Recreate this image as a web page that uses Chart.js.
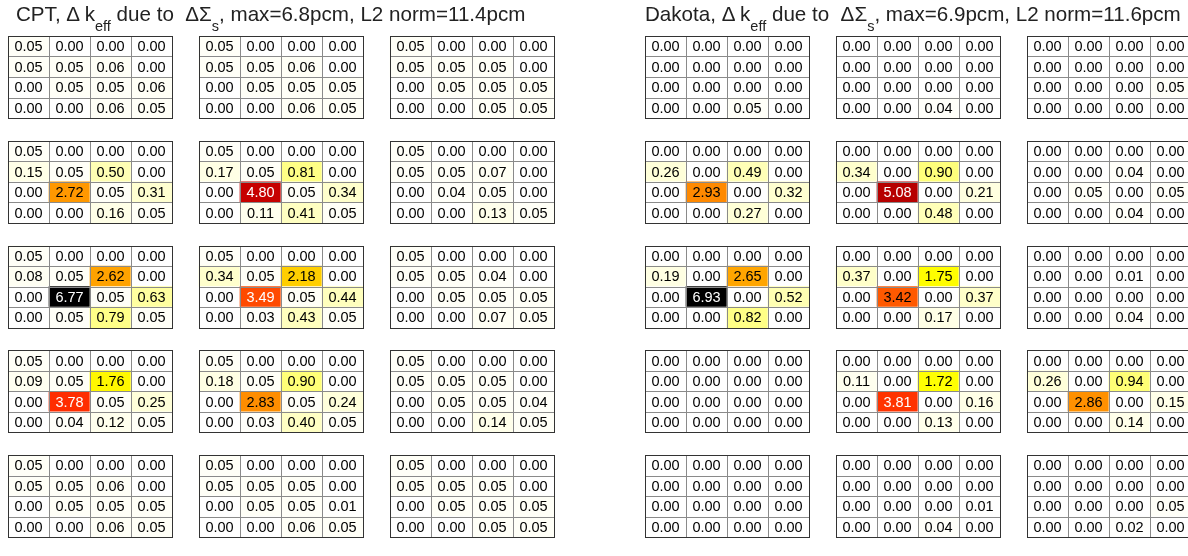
<!DOCTYPE html>
<html>
<head>
<meta charset="utf-8">
<script src="https://cdn.jsdelivr.net/npm/chart.js@4.4.1/dist/chart.umd.min.js"></script>
<style>
  html, body { margin: 0; padding: 0; background: #fff; width: 1188px; height: 556px; overflow: hidden; }
  .panel { position: absolute; top: 0; width: 594px; height: 556px; }
  .panel canvas { position: absolute; left: 0; top: 0; }
  .title { position: absolute; top: 3px; font-family: "Liberation Sans", Arial, sans-serif; font-size: 20.6px;
           line-height: 21px; color: #222; white-space: pre; }
  .title sub { font-size: 14.5px; vertical-align: -10px; line-height: 0; }
</style>
</head>
<body>
<div class="panel" style="left:0px"><canvas id="c0" width="594" height="556"></canvas><div class="title" id="t0" style="left:16px"></div></div>
<div class="panel" style="left:594px"><canvas id="c1" width="594" height="556"></canvas><div class="title" id="t1" style="left:51px"></div></div>
<script>
// Δk_eff (pcm) per pin, three assemblies side by side, five axial bands top to bottom.
const cptBand1 = [
  [0.05, 0.00, 0.00, 0.00,  0.05, 0.00, 0.00, 0.00,  0.05, 0.00, 0.00, 0.00],
  [0.05, 0.05, 0.06, 0.00,  0.05, 0.05, 0.06, 0.00,  0.05, 0.05, 0.05, 0.00],
  [0.00, 0.05, 0.05, 0.06,  0.00, 0.05, 0.05, 0.05,  0.00, 0.05, 0.05, 0.05],
  [0.00, 0.00, 0.06, 0.05,  0.00, 0.00, 0.06, 0.05,  0.00, 0.00, 0.05, 0.05]
];
const cptBand2 = [
  [0.05, 0.00, 0.00, 0.00,  0.05, 0.00, 0.00, 0.00,  0.05, 0.00, 0.00, 0.00],
  [0.15, 0.05, 0.50, 0.00,  0.17, 0.05, 0.81, 0.00,  0.05, 0.05, 0.07, 0.00],
  [0.00, 2.72, 0.05, 0.31,  0.00, 4.80, 0.05, 0.34,  0.00, 0.04, 0.05, 0.00],
  [0.00, 0.00, 0.16, 0.05,  0.00, 0.11, 0.41, 0.05,  0.00, 0.00, 0.13, 0.05]
];
const cptBand3 = [
  [0.05, 0.00, 0.00, 0.00,  0.05, 0.00, 0.00, 0.00,  0.05, 0.00, 0.00, 0.00],
  [0.08, 0.05, 2.62, 0.00,  0.34, 0.05, 2.18, 0.00,  0.05, 0.05, 0.04, 0.00],
  [0.00, 6.77, 0.05, 0.63,  0.00, 3.49, 0.05, 0.44,  0.00, 0.05, 0.05, 0.05],
  [0.00, 0.05, 0.79, 0.05,  0.00, 0.03, 0.43, 0.05,  0.00, 0.00, 0.07, 0.05]
];
const cptBand4 = [
  [0.05, 0.00, 0.00, 0.00,  0.05, 0.00, 0.00, 0.00,  0.05, 0.00, 0.00, 0.00],
  [0.09, 0.05, 1.76, 0.00,  0.18, 0.05, 0.90, 0.00,  0.05, 0.05, 0.05, 0.00],
  [0.00, 3.78, 0.05, 0.25,  0.00, 2.83, 0.05, 0.24,  0.00, 0.05, 0.05, 0.04],
  [0.00, 0.04, 0.12, 0.05,  0.00, 0.03, 0.40, 0.05,  0.00, 0.00, 0.14, 0.05]
];
const cptBand5 = [
  [0.05, 0.00, 0.00, 0.00,  0.05, 0.00, 0.00, 0.00,  0.05, 0.00, 0.00, 0.00],
  [0.05, 0.05, 0.06, 0.00,  0.05, 0.05, 0.05, 0.00,  0.05, 0.05, 0.05, 0.00],
  [0.00, 0.05, 0.05, 0.05,  0.00, 0.05, 0.05, 0.01,  0.00, 0.05, 0.05, 0.05],
  [0.00, 0.00, 0.06, 0.05,  0.00, 0.00, 0.06, 0.05,  0.00, 0.00, 0.05, 0.05]
];

const dakotaBand1 = [
  [0.00, 0.00, 0.00, 0.00,  0.00, 0.00, 0.00, 0.00,  0.00, 0.00, 0.00, 0.00],
  [0.00, 0.00, 0.00, 0.00,  0.00, 0.00, 0.00, 0.00,  0.00, 0.00, 0.00, 0.00],
  [0.00, 0.00, 0.00, 0.00,  0.00, 0.00, 0.00, 0.00,  0.00, 0.00, 0.00, 0.05],
  [0.00, 0.00, 0.05, 0.00,  0.00, 0.00, 0.04, 0.00,  0.00, 0.00, 0.00, 0.00]
];
const dakotaBand2 = [
  [0.00, 0.00, 0.00, 0.00,  0.00, 0.00, 0.00, 0.00,  0.00, 0.00, 0.00, 0.00],
  [0.26, 0.00, 0.49, 0.00,  0.34, 0.00, 0.90, 0.00,  0.00, 0.00, 0.04, 0.00],
  [0.00, 2.93, 0.00, 0.32,  0.00, 5.08, 0.00, 0.21,  0.00, 0.05, 0.00, 0.05],
  [0.00, 0.00, 0.27, 0.00,  0.00, 0.00, 0.48, 0.00,  0.00, 0.00, 0.04, 0.00]
];
const dakotaBand3 = [
  [0.00, 0.00, 0.00, 0.00,  0.00, 0.00, 0.00, 0.00,  0.00, 0.00, 0.00, 0.00],
  [0.19, 0.00, 2.65, 0.00,  0.37, 0.00, 1.75, 0.00,  0.00, 0.00, 0.01, 0.00],
  [0.00, 6.93, 0.00, 0.52,  0.00, 3.42, 0.00, 0.37,  0.00, 0.00, 0.00, 0.00],
  [0.00, 0.00, 0.82, 0.00,  0.00, 0.00, 0.17, 0.00,  0.00, 0.00, 0.04, 0.00]
];
const dakotaBand4 = [
  [0.00, 0.00, 0.00, 0.00,  0.00, 0.00, 0.00, 0.00,  0.00, 0.00, 0.00, 0.00],
  [0.00, 0.00, 0.00, 0.00,  0.11, 0.00, 1.72, 0.00,  0.26, 0.00, 0.94, 0.00],
  [0.00, 0.00, 0.00, 0.00,  0.00, 3.81, 0.00, 0.16,  0.00, 2.86, 0.00, 0.15],
  [0.00, 0.00, 0.00, 0.00,  0.00, 0.00, 0.13, 0.00,  0.00, 0.00, 0.14, 0.00]
];
const dakotaBand5 = [
  [0.00, 0.00, 0.00, 0.00,  0.00, 0.00, 0.00, 0.00,  0.00, 0.00, 0.00, 0.00],
  [0.00, 0.00, 0.00, 0.00,  0.00, 0.00, 0.00, 0.00,  0.00, 0.00, 0.00, 0.00],
  [0.00, 0.00, 0.00, 0.00,  0.00, 0.00, 0.00, 0.01,  0.00, 0.00, 0.00, 0.05],
  [0.00, 0.00, 0.00, 0.00,  0.00, 0.00, 0.04, 0.00,  0.00, 0.00, 0.02, 0.00]
];

const methodNames = ['CPT', 'Dakota'];
const maxLabels   = ['6.8', '6.9'];
const l2Labels    = ['11.4', '11.6'];

// ---- layout (pixels per cell, gaps in cell units) ----
const CELL_W = 41;          // px per column
const CELL_H = 20.5;        // px per row
const GRID_GAP = 27 / CELL_W;      // space between assemblies, in columns
const BAND_GAP = 22.8 / CELL_H;    // space between bands, in rows
const TOP_PX = 36;          // top of first band
const LEFT_PX = [8, 51];    // left of first assembly inside each panel
const PANEL_W = 594, PANEL_H = 556;

// reversed "hot" colour map: white -> yellow -> orange -> red -> black
function heat(t) {
  const s = 1 - Math.min(1, Math.max(0, t));
  const cl = v => Math.min(1, Math.max(0, v));
  const r = cl(s / 0.375), g = cl((s - 0.375) / 0.375), b = cl((s - 0.75) / 0.25);
  return `rgb(${Math.round(r * 255)},${Math.round(g * 255)},${Math.round(b * 255)})`;
}

const gridAndLabels = {
  id: 'gridAndLabels',
  afterDatasetsDraw(chart) {
    const { ctx, scales: { x, y } } = chart;
    const bands = chart.options.plugins.gridAndLabels.bands;
    const vmax = chart.options.plugins.gridAndLabels.vmax;
    const px = v => Math.round(x.getPixelForValue(v)) + 0.5;
    const py = v => Math.round(y.getPixelForValue(v)) + 0.5;
    ctx.save();
    for (let b = 0; b < bands; b++) {
      for (let g = 0; g < 3; g++) {
        const x0 = g * (4 + GRID_GAP), y0 = b * (4 + BAND_GAP);
        ctx.strokeStyle = '#8a8a8a';
        ctx.lineWidth = 1;
        ctx.beginPath();
        for (let k = 1; k < 4; k++) {
          ctx.moveTo(px(x0 + k), py(y0)); ctx.lineTo(px(x0 + k), py(y0 + 4));
          ctx.moveTo(px(x0), py(y0 + k)); ctx.lineTo(px(x0 + 4), py(y0 + k));
        }
        ctx.stroke();
        ctx.strokeStyle = '#333';
        ctx.strokeRect(px(x0), py(y0), px(x0 + 4) - px(x0), py(y0 + 4) - py(y0));
      }
    }
    // value labels at each bar's centre
    const meta = chart.getDatasetMeta(0);
    const data = chart.data.datasets[0].data;
    ctx.font = '14.5px "Liberation Sans", Arial, sans-serif';
    ctx.textAlign = 'center';
    ctx.textBaseline = 'middle';
    meta.data.forEach((el, i) => {
      const v = data[i].v;
      ctx.fillStyle = v > vmax / 2 ? '#fff' : '#000';
      ctx.fillText(v.toFixed(2), el.x, (el.y + el.base) / 2 + 1);
    });
    ctx.restore();
  }
};

function makePanel(idx, bands) {
  const cells = [];
  bands.forEach((band, b) => band.forEach((row, r) => row.forEach((v, c) => {
    const g = Math.floor(c / 4);
    const x0 = c + g * GRID_GAP;
    const y0 = b * (4 + BAND_GAP) + r;
    cells.push({ x: x0 + 0.5, y: [y0, y0 + 1], v });
  })));
  const vmax = Math.max(...cells.map(d => d.v));
  const noTicks = a => { a.ticks = []; };
  const xMin = -LEFT_PX[idx] / CELL_W, yMin = -TOP_PX / CELL_H;

  new Chart(document.getElementById('c' + idx), {
    type: 'bar',
    data: {
      datasets: [{
        data: cells,
        backgroundColor: c => heat(c.raw.v / vmax),
        borderWidth: 0,
        borderSkipped: false,
        barPercentage: 1,
        categoryPercentage: 1
      }]
    },
    options: {
      responsive: false,
      animation: false,
      devicePixelRatio: 1,
      layout: { padding: 0 },
      events: [],
      plugins: {
        legend: { display: false },
        tooltip: { enabled: false },
        title: { display: false },
        gridAndLabels: { bands: bands.length, vmax }
      },
      scales: {
        x: { type: 'linear', display: false, offset: false,
             min: xMin, max: xMin + PANEL_W / CELL_W, afterBuildTicks: noTicks },
        y: { type: 'linear', display: false, reverse: true,
             min: yMin, max: yMin + PANEL_H / CELL_H, afterBuildTicks: noTicks }
      }
    },
    plugins: [gridAndLabels]
  });

  document.getElementById('t' + idx).innerHTML =
    `${methodNames[idx]}, Δ k<sub>eff</sub> due to  ΔΣ<sub>s</sub>, max=${maxLabels[idx]}pcm, L2 norm=${l2Labels[idx]}pcm`;
}

makePanel(0, [cptBand1, cptBand2, cptBand3, cptBand4, cptBand5]);
makePanel(1, [dakotaBand1, dakotaBand2, dakotaBand3, dakotaBand4, dakotaBand5]);
</script>
</body>
</html>
